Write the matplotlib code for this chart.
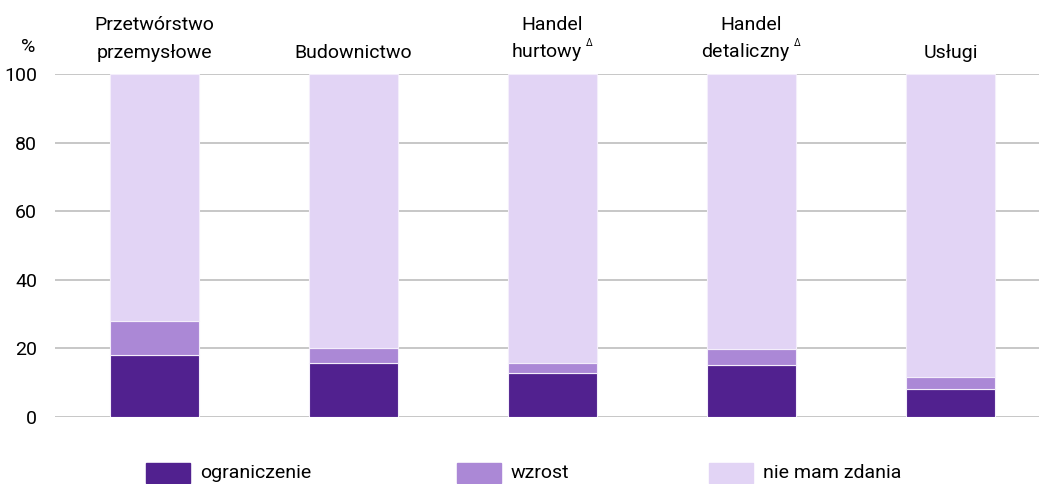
import matplotlib
matplotlib.use("Agg")
import matplotlib.pyplot as plt
from matplotlib.patches import Rectangle
from matplotlib.transforms import blended_transform_factory
import numpy as np

plt.rcParams['font.family'] = ['Roboto', 'DejaVu Sans']
plt.rcParams['mathtext.default'] = 'regular'

categories = ["Przetwórstwo\nprzemysłowe", "Budownictwo", "Handel\nhurtowy $^{^{\\Delta}}$",
              "Handel\ndetaliczny $^{^{\\Delta}}$", "Usługi"]
ograniczenie = [18.0, 15.7, 12.9, 15.3, 8.1]
wzrost = [10.0, 4.3, 2.9, 4.6, 3.7]
nie_mam_zdania = [72.0, 80.0, 84.2, 80.1, 88.2]
series_names = ["ograniczenie", "wzrost", "nie mam zdania"]
colors = ["#51218F", "#AB88D6", "#E2D4F5"]
yticks = [0, 20, 40, 60, 80, 100]

W, H = 1039, 484
fig = plt.figure(figsize=(W / 100, H / 100), dpi=100)
ax = fig.add_axes([55 / W, 1 - 417 / H, (1039 - 55) / W, (417 - 74) / H])

x = np.arange(len(categories))
bw = 0.45
bottom = np.zeros(len(categories))
for vals, c in zip([ograniczenie, wzrost, nie_mam_zdania], colors):
    ax.bar(x, vals, bw, bottom=bottom, color=c, edgecolor="#F4EEFB", linewidth=0.8, zorder=3)
    bottom += np.array(vals)

ax.set_xlim(-0.5, 4.445)
ax.set_ylim(0, 100)
ax.set_yticks(yticks)
ax.set_yticklabels([str(t) for t in yticks], fontsize=14)
ax.tick_params(axis='y', length=0, pad=13)
ax.tick_params(axis='x', length=0, labelbottom=False)
ax.grid(axis='y', color="#BDBDBD", linewidth=1.2, zorder=0)
for s in ax.spines.values():
    s.set_visible(False)

trans = blended_transform_factory(ax.transData, fig.transFigure)
for xi, lab in zip(x, categories):
    lines = lab.split("\n")
    n = len(lines)
    for i, line in enumerate(lines):
        ypx = 58 - (n - 1 - i) * 28
        ax.text(xi, 1 - ypx / H, line, ha='center', va='baseline', fontsize=14,
                transform=trans, clip_on=False)

fig.text(28 / W, 1 - 52 / H, "%", ha='center', va='baseline', fontsize=14)

# legend
leg_x = [146, 457, 709]
for lx, name, c in zip(leg_x, series_names, colors):
    fig.patches.append(Rectangle((lx / W, 1 - 483 / H), 44 / W, 20 / H,
                                 transform=fig.transFigure, color=c, figure=fig))
    fig.text((lx + 54) / W, 1 - 473 / H, name, ha='left', va='center', fontsize=14)

fig.savefig("out.png", dpi=100)
